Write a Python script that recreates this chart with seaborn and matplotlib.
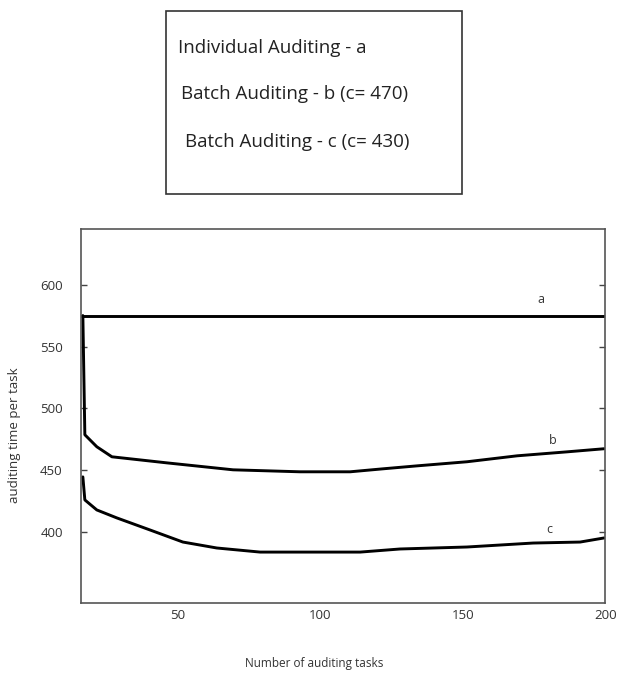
import matplotlib
matplotlib.use("Agg")
import matplotlib.pyplot as plt
from matplotlib.patches import Rectangle
import seaborn as sns
import pandas as pd

sns.set_theme(style="white")
plt.rcParams['font.family'] = ['Open Sans', 'DejaVu Sans']

# data
tasks_a = [16, 200]
time_a = [575, 575]

tasks_b = [16.7, 17.4, 21.6, 26.9, 46.2, 69.4, 92.9, 110.5, 122.0, 134.0, 151.5, 169.1, 186.6, 199.6]
time_b = [575, 478.8, 469.1, 461.0, 456.1, 450.5, 448.9, 448.9, 451.3, 453.7, 457.0, 461.8, 465.0, 467.5]

tasks_c = [16.7, 17.4, 21.6, 28.6, 40.2, 51.8, 63.7, 78.9, 92.9, 114.0, 128.0, 151.5, 174.7, 191.2, 199.6]
time_c = [444.8, 426.2, 418.1, 411.7, 402.0, 392.2, 387.4, 384.1, 384.1, 384.1, 386.6, 388.2, 391.4, 392.2, 395.5]

x_ticks = [50, 100, 150, 200]
y_ticks = [400, 450, 500, 550, 600]

legend_lines = ["Individual Auditing - a",
                "Batch Auditing - b (c= 470)",
                "Batch Auditing - c (c= 430)"]

df = pd.concat([
    pd.DataFrame({'tasks': tasks_a, 'time': time_a, 'curve': 'a'}),
    pd.DataFrame({'tasks': tasks_b, 'time': time_b, 'curve': 'b'}),
    pd.DataFrame({'tasks': tasks_c, 'time': time_c, 'curve': 'c'}),
])

W, H = 622, 673
fig = plt.figure(figsize=(6.22, 6.73), dpi=100)
ax = fig.add_axes([0.130, 0.104, 0.843, 0.556])

for name, grp in df.groupby('curve'):
    sns.lineplot(data=grp, x='tasks', y='time', ax=ax, color='black',
                 linewidth=2.1, sort=False, estimator=None)

ax.set_xlim(16, 200)
ax.set_ylim(343, 645)
ax.set_xticks(x_ticks)
ax.set_yticks(y_ticks)
ax.tick_params(axis='x', direction='in', length=5, width=2, colors='black',
               labelsize=9.5, labelcolor='#333333', pad=4)
ax.tick_params(axis='y', direction='in', length=4, width=1, colors='#444444',
               labelsize=9.5, labelcolor='#333333', right=True, left=True, pad=13)

for sp in ax.spines.values():
    sp.set_color('#555555')
    sp.set_linewidth(1.2)

ax.set_xlabel('')
ax.set_ylabel('')
fig.text(314 / W, 1 - 663 / H, 'Number of auditing tasks', fontsize=8.5,
         color='#333333', ha='center', va='center')
fig.text(15 / W, 1 - 435 / H, 'auditing time per task', fontsize=9.5,
         color='#333333', ha='center', va='center', rotation=90)

# curve letters
ax.text(177.5, 588, 'a', fontsize=9, color='#333333', ha='center', va='center')
ax.text(181.7, 474, 'b', fontsize=9, color='#333333', ha='center', va='center')
ax.text(180.3, 402, 'c', fontsize=9, color='#333333', ha='center', va='center')

# legend box above the plot
fig.patches.append(Rectangle((166 / W, 1 - 194 / H), (462 - 166) / W, (194 - 11) / H,
                             transform=fig.transFigure, fill=False,
                             edgecolor='#333333', linewidth=1.2))
for txt, (px, py) in zip(legend_lines, [(178, 48), (181, 94), (185, 142)]):
    fig.text(px / W, 1 - py / H, txt, fontsize=13.5, color='#222222',
             ha='left', va='center')

fig.savefig('out.png', dpi=100)
